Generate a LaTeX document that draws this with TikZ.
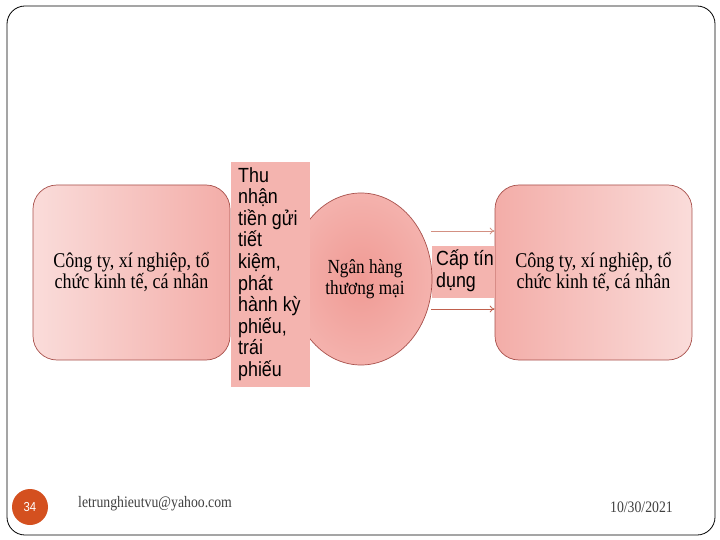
\documentclass[tikz,border=0pt]{standalone}
\usepackage{fontspec}
\setmainfont[FakeStretch=0.86]{Liberation Serif}
\newfontfamily\arialf[FakeStretch=0.87]{Liberation Sans}
\newfontfamily\arialplain{Liberation Sans}
\usetikzlibrary{shapes.geometric,arrows.meta}
\definecolor{lightpink}{HTML}{FADCDA}
\definecolor{midpink}{HTML}{F3ADA8}
\definecolor{rectpink}{HTML}{F4B4AF}
\definecolor{ellin}{HTML}{F09A94}
\definecolor{ellout}{HTML}{F4B2AD}
\definecolor{ringred}{HTML}{A8504B}
\definecolor{arrowred}{HTML}{C0604D}
\definecolor{slideorange}{HTML}{D4501F}
\definecolor{footgray}{HTML}{404040}
\tikzset{
  orgbox/.style={draw=ringred, line width=0.7pt, rounded corners=24pt,
    minimum width=197pt, minimum height=175pt, inner sep=0pt,
    align=center, font=\fontsize{21}{21}\selectfont},
  tallbox/.style={fill=rectpink, minimum width=79pt, minimum height=225pt,
    inner sep=0pt},
  sanstext/.style={font=\arialf\fontsize{20.5}{21.6}\selectfont, align=left,
    inner sep=0pt, anchor=north west},
  flowarrow/.style={draw=arrowred, line width=0.8pt, -{To[length=5pt,width=7pt]}},
  foottext/.style={font=\fontsize{16}{18}\selectfont, text=footgray, inner sep=0pt}
}
\begin{document}
\begin{tikzpicture}[x=1pt,y=-1pt]
\useasboundingbox (0,0) rectangle (720,540);
\fill[white] (0,0) rectangle (720,540);
% slide frame
\draw[line width=0.8pt, rounded corners=18pt] (7,6) rectangle (715,535);
% left box
\node[orgbox, left color=lightpink, right color=midpink] (lbox) at (131.5,272.5)
  {Công ty, xí nghiệp, tổ\\chức kinh tế, cá nhân};
% right box
\node[orgbox, left color=midpink, right color=lightpink] (rbox) at (593.5,272.5)
  {Công ty, xí nghiệp, tổ\\chức kinh tế, cá nhân};
% credit rectangle (behind the ellipse)
\node[fill=rectpink, minimum width=63pt, minimum height=52pt, inner sep=0pt] (credit) at (463.5,272) {};
% bank ellipse
\node[ellipse, draw=ringred, line width=0.7pt, inner color=ellin, outer color=ellout,
  minimum width=142pt, minimum height=172pt, inner sep=0pt] (bank) at (361,279) {};
\node[align=center, font=\fontsize{20}{21}\selectfont, inner sep=0pt] (banktext) at (365,279)
  {Ngân hàng\\thương mại};
% tall rectangle (on top of ellipse)
\node[tallbox] (tall) at (270.5,274.5) {};
\node[sanstext] (talltext) at (238,167)
  {Thu\\nhận\\tiền gửi\\tiết\\kiệm,\\phát\\hành kỳ\\phiếu,\\trái\\phiếu};
\node[sanstext] (credittext) at (436,250) {Cấp tín\\dụng};
% arrows
\coordinate (a1) at (431,231);
\coordinate (a2) at (431,309);
\draw[flowarrow, draw=arrowred!70] (a1) -- (rbox.west |- a1);
\draw[flowarrow] (a2) -- (rbox.west |- a2);
% footer
\node[circle, fill=slideorange, minimum size=36pt, inner sep=0pt, text=white,
  font=\arialf\fontsize{13}{14}\selectfont] (pagenum) at (30,507) {34};
\node[foottext, anchor=west] (email) at (78,504) {letrunghieutvu@yahoo.com};
\node[foottext, anchor=east] (date) at (673,507) {10/30/2021};
\end{tikzpicture}
\end{document}
